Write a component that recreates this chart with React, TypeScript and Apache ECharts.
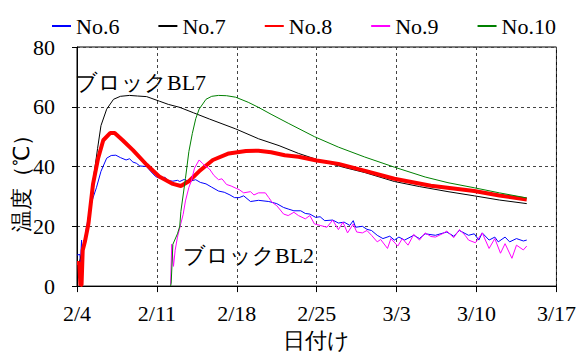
import React, { useEffect, useRef } from "react";
import * as echarts from "echarts";

// x values are days since 2/4 (leap year: 2/4 .. 3/17 = 42 days)
const dateLabels = ["2/4", "2/11", "2/18", "2/25", "3/3", "3/10", "3/17"];
const seriesNames = ["No.6", "No.7", "No.8", "No.9", "No.10"];

const no6: [number, number][] = [
  [0, 10.4], [0.25, 10.6], [0.3, 8], [0.4, 15.4], [0.45, 6.9], [0.6, 13], [0.8, 19], [1.1, 25.3],
  [1.4, 29.5], [1.7, 32.9], [2.1, 38.4], [2.6, 42.8], [3.0, 43.7], [3.4, 43.8], [3.8, 43.0], [4.3, 42.2],
  [4.6, 42.6], [4.9, 41.5], [5.2, 41.1], [5.5, 40.2], [6.1, 40.0], [6.5, 38.2], [6.9, 36.6], [7.2, 36.2],
  [7.7, 36.4], [8.0, 35.3], [8.4, 35.1], [8.8, 35.4], [9.0, 35.0], [9.4, 35.7], [9.8, 35.0], [10.4, 35.6],
  [10.8, 34.7], [11.3, 34.2], [11.8, 33.1], [12.4, 31.8], [12.9, 31.4], [13.4, 30.5], [13.8, 29.6],
  [14.2, 29.6], [14.6, 30.2], [15.2, 28.3], [15.9, 28.7], [16.8, 28.3], [17.5, 27.6], [18.1, 26.3],
  [18.5, 25.8], [19.0, 25.2], [19.6, 25.2], [20.0, 24.3], [20.4, 24.1], [20.9, 23.0], [21.3, 23.2],
  [21.7, 21.9], [22.4, 22.1], [22.9, 21.1], [23.4, 21.4], [23.9, 20.3], [24.2, 21.9], [24.4, 19.7],
  [25.0, 20.0], [25.4, 19.0], [25.8, 18.6], [26.3, 17.0], [26.8, 15.9], [27.4, 16.7], [27.8, 15.4],
  [28.2, 16.4], [28.7, 15.4], [29.5, 17.0], [30.0, 15.9], [30.5, 17.5], [31.4, 17.0], [32.4, 18.1],
  [33.0, 16.7], [33.5, 18.6], [34.3, 17.0], [34.8, 17.5], [35.2, 15.4], [35.5, 17.8], [36.1, 15.4],
  [36.6, 16.4], [36.9, 14.8], [37.5, 16.4], [37.9, 14.8], [38.5, 15.9], [39.1, 15.1], [39.4, 15.4],
];

const no7: [number, number][] = [
  [0, 7.7], [0.2, 8], [0.5, 12], [1.0, 22], [1.4, 35], [1.8, 46], [2.1, 53.7], [2.6, 59.2], [3.2, 62.5],
  [3.8, 63.5], [4.6, 63.8], [5.3, 63.6], [6.1, 63.4], [7.2, 61.9], [8.0, 60.8], [9.0, 59.8], [10.2, 58.0],
  [11.6, 55.9], [13.9, 52.6], [15.9, 49.3], [17.7, 47.0], [19.4, 44.4], [21.7, 41.5], [23.5, 39.6],
  [25.2, 38.0], [27.8, 35.0], [30.0, 33.3], [32.5, 31.6], [34.8, 30.2], [37.0, 28.8], [39.4, 27.6],
];

const no8: [number, number][] = [
  [0, 7.7], [0.2, 7.7], [0.3, 0.2], [0.4, 0.5], [0.5, 12], [0.7, 15], [1.0, 20.8], [1.4, 34], [1.85, 42.8],
  [2.3, 48.8], [2.9, 51.2], [3.3, 51.2], [4.0, 48.8], [4.9, 45.5], [6.1, 40.6], [7.2, 36.7], [8.4, 34.2],
  [9.1, 33.5], [9.8, 35.1], [10.7, 38.4], [11.9, 42.2], [13.3, 44.4], [14.8, 45.2], [15.9, 45.3],
  [17.0, 44.8], [18.2, 43.8], [19.4, 43.3], [21.0, 42.0], [22.9, 40.9], [25.0, 38.8], [27.8, 35.9],
  [31.0, 33.6], [34.8, 31.8], [37.0, 30.3], [39.4, 29.0],
];

const no9: [number, number][] = [
  [8.2, 0.5], [8.3, 14], [8.45, 6.6], [8.6, 12], [8.8, 16.4], [9.1, 21], [9.3, 24], [9.5, 28.5], [9.8, 33],
  [10.0, 35], [10.3, 39.5], [10.7, 42.2], [11.0, 41], [11.3, 40], [11.6, 39.2], [12.0, 37], [12.4, 35.6],
  [12.7, 35.9], [13.1, 34], [13.5, 33.5], [14.0, 32.6], [14.2, 32.3], [14.6, 31.2], [15.2, 31.6],
  [15.5, 30.5], [15.9, 31.2], [16.5, 31.2], [16.8, 29.6], [17.1, 28.0], [17.5, 26.9], [18.1, 24.1],
  [18.5, 23.6], [19.0, 24.7], [19.4, 23.6], [20.0, 22.5], [20.4, 23.6], [20.8, 20.8], [21.3, 20.3],
  [21.9, 19.7], [22.4, 22.1], [22.9, 18.9], [23.3, 21.4], [23.7, 17.8], [24.2, 20.8], [24.5, 18.1],
  [25.0, 17.8], [25.4, 18.6], [25.8, 17.0], [26.3, 14.8], [26.6, 15.6], [27.2, 12.6], [27.5, 15.9],
  [28.1, 13.4], [28.5, 15.9], [29.0, 13.7], [29.5, 17.3], [30.0, 15.4], [30.5, 17.8], [31.0, 16.6],
  [31.4, 16.4], [32.0, 17.5], [32.4, 18.4], [33.0, 16.2], [33.5, 18.9], [34.0, 17.0], [34.3, 15.4],
  [34.9, 14.5], [35.5, 17.8], [36.1, 12.6], [36.6, 15.9], [37.1, 11.0], [37.5, 14.2], [38.1, 9.3],
  [38.5, 13.7], [39.1, 12.1], [39.4, 13.4],
];

const no10: [number, number][] = [
  [8.2, 0], [8.25, 1], [8.4, 14], [8.8, 17.5], [9.0, 20], [9.1, 25], [9.5, 36], [9.8, 45], [10.1, 51],
  [10.4, 56], [10.7, 59.2], [11.3, 62.5], [11.8, 63.5], [12.4, 63.8], [13.1, 63.7], [13.9, 63.2],
  [15.0, 61.5], [15.9, 59.8], [17.0, 57.5], [18.5, 54.5], [20.8, 50.0], [22.9, 46.5], [25.2, 43.2],
  [27.8, 39.8], [30.5, 36.5], [32.5, 34.6], [34.8, 32.9], [37.0, 31.2], [39.4, 29.5],
];

const seriesData = [no6, no7, no8, no9, no10];
const seriesColors = ["#0000ff", "#000000", "#ff0000", "#ff00ff", "#008000"];
const seriesWidths = [1, 1, 4, 1, 1];

const FONT = '"Liberation Serif", "Times New Roman", serif';
const txt = { fontFamily: FONT, fontSize: 22, fontWeight: "normal" as const, fontStyle: "normal" as const, color: "#000" };

export default function App() {
  const ref = useRef<HTMLDivElement>(null);
  useEffect(() => {
    if (!ref.current) return;
    const chart = echarts.init(ref.current, undefined, { renderer: "svg" });
    chart.setOption({
      animation: false,
      backgroundColor: "#ffffff",
      textStyle: { fontFamily: FONT, fontWeight: "normal" },
      legend: {
        left: 47,
        top: 10,
        icon: "rect",
        itemWidth: 19,
        itemHeight: 2,
        itemGap: 39,
        data: seriesNames,
        textStyle: { ...txt },
      },
      grid: {
        left: 77,
        right: 20,
        top: 47,
        bottom: 65,
        show: true,
        borderColor: "#000",
        borderWidth: 1,
        backgroundColor: "transparent",
      },
      xAxis: {
        type: "value",
        min: 0,
        max: 42,
        interval: 7,
        name: "日付け",
        nameLocation: "middle",
        nameGap: 41,
        nameTextStyle: { ...txt },
        axisLine: { show: true, lineStyle: { color: "#000", width: 1 } },
        axisTick: { show: true, length: 6, lineStyle: { color: "#000" } },
        axisLabel: {
          ...txt,
          margin: 16,
          formatter: (v: number) => dateLabels[Math.round(v / 7)] ?? "",
        },
        splitLine: { show: true, lineStyle: { color: "#444", type: [3, 3], width: 1 } },
      },
      yAxis: {
        type: "value",
        min: 0,
        max: 80,
        interval: 20,
        axisLine: { show: true, lineStyle: { color: "#000", width: 1 } },
        axisTick: { show: true, length: 5, lineStyle: { color: "#000" } },
        axisLabel: { ...txt, margin: 22 },
        splitLine: { show: true, lineStyle: { color: "#444", type: [3, 3], width: 1 } },
      },
      graphic: [
        {
          type: "text",
          x: 21,
          y: 178,
          rotation: Math.PI / 2,
          style: {
            text: "温度（℃）",
            font: `normal normal 22px ${FONT}`,
            fill: "#000",
            align: "center",
            verticalAlign: "middle",
          },
        },
        {
          type: "text",
          left: 75,
          top: 71,
          style: { text: "ブロックBL7", font: `normal normal 22px ${FONT}`, fill: "#000" },
        },
        {
          type: "text",
          left: 183,
          top: 244,
          style: { text: "ブロックBL2", font: `normal normal 22px ${FONT}`, fill: "#000" },
        },
      ],
      series: seriesNames.map((name, i) => ({
        name,
        type: "line",
        data: seriesData[i],
        symbol: "none",
        smooth: false,
        lineStyle: { color: seriesColors[i], width: seriesWidths[i] },
        itemStyle: { color: seriesColors[i] },
      })),
    });
    return () => chart.dispose();
  }, []);
  return (
    <div
      ref={ref}
      style={{ position: "fixed", left: 0, top: 0, width: 579, height: 356 }}
    />
  );
}
